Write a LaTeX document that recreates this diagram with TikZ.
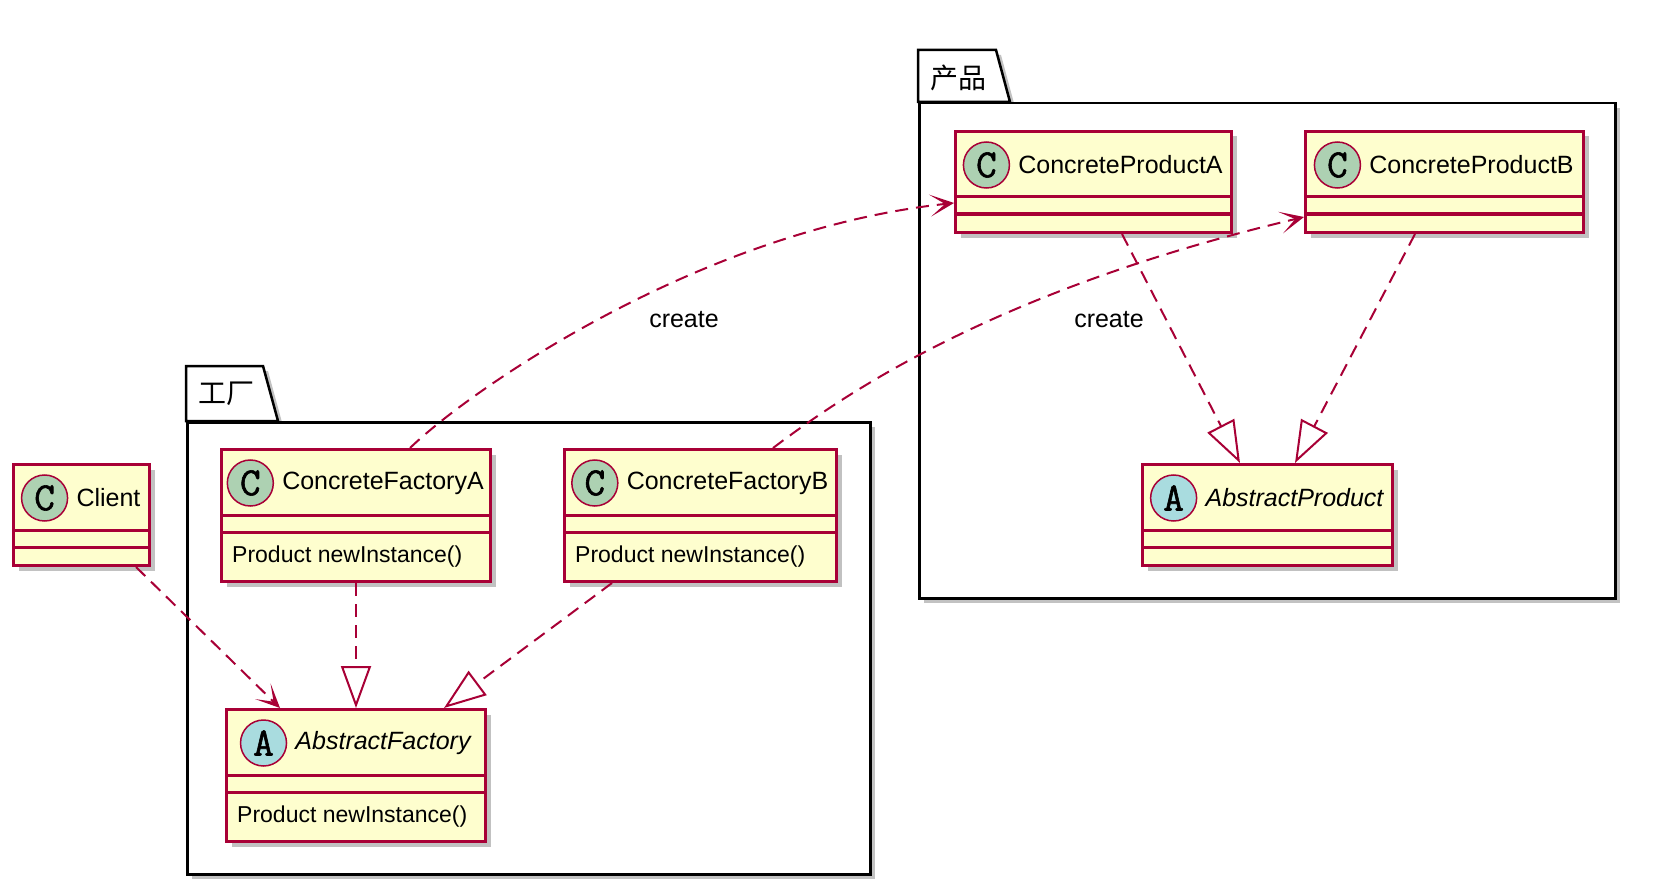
\documentclass[tikz,border=0pt]{standalone}
\usepackage{fontspec}
\setmainfont{Liberation Sans}
\newfontfamily\cjk{Noto Sans CJK SC}
\newfontfamily\iconfont[AutoFakeBold=1.5]{Latin Modern Mono}
\usepackage{tikz}
\usetikzlibrary{positioning,calc,arrows.meta,shadows}

\definecolor{umlRed}{HTML}{A80036}
\definecolor{umlFill}{HTML}{FEFECE}
\definecolor{umlC}{HTML}{ADD1B2}
\definecolor{umlA}{HTML}{A9DCDF}

\tikzset{
  classbox/.style={draw=umlRed, fill=umlFill, line width=3pt, anchor=north west, inner sep=0pt,
    drop shadow={shadow xshift=5pt, shadow yshift=-5pt, fill=black!40, opacity=.6}},
  classline/.style={draw=umlRed, line width=3pt},
  circC/.style={circle, draw=umlRed, line width=1.5pt, fill=umlC, minimum size=46pt, inner sep=0pt,
    font=\iconfont\bfseries\fontsize{40}{40}\selectfont},
  circA/.style={circC, fill=umlA},
  titleC/.style={inner sep=0pt},
  titleA/.style={inner sep=0pt, font=\fontsize{25}{30}\selectfont\itshape},
  method/.style={inner sep=0pt, font=\fontsize{23}{28}\selectfont},
  pkgbox/.style={draw=black, fill=white, line width=2.5pt, anchor=north west, inner sep=0pt,
    drop shadow={shadow xshift=5pt, shadow yshift=-5pt, fill=black!40, opacity=.6}},
  pkgtab/.style={draw=black, fill=white, line width=2.5pt, line join=miter,
    drop shadow={shadow xshift=5pt, shadow yshift=-5pt, fill=black!40, opacity=.6}},
  pkglabel/.style={inner sep=0pt, font=\cjk\fontsize{28}{32}\selectfont},
  dep/.style={draw=umlRed, line width=2pt, dash pattern=on 13pt off 8pt,
    -{Stealth[length=24pt, width=22pt, inset=15pt]}},
  real/.style={draw=umlRed, line width=2pt, dash pattern=on 13pt off 8pt,
    -{Triangle[open, length=42pt, width=30pt, fill=white]}},
  lbl/.style={inner sep=0pt}
}

\begin{document}
\begin{tikzpicture}[x=1pt, y=-1pt, font=\fontsize{25}{30}\selectfont]
  \useasboundingbox (0,0) rectangle (1659,896);

  % name, top left, width, kind, title, method
  \def\umlClass#1#2#3#4#5#6{
    \if\relax\detokenize{#6}\relax \def\boxH{101}\else \def\boxH{132}\fi
    \node[classbox, minimum width=#3pt, minimum height=\boxH pt] (#1) at (#2) {};
    \draw[classline] ([yshift=-67pt]#1.north west) -- ([yshift=-67pt]#1.north east);
    \draw[classline] ([yshift=-84pt]#1.north west) -- ([yshift=-84pt]#1.north east);
    \node[title#4] (#1-name) at ([xshift=27pt,yshift=-35pt]#1.north) {#5};
    \node[circ#4, left=8pt of #1-name] (#1-icon) {#4};
    \if\relax\detokenize{#6}\relax\else
      \node[method, anchor=west] (#1-op) at ([xshift=12pt,yshift=-109pt]#1.north west) {#6};
    \fi
  }

  % packages
  \draw[pkgtab] (186,421) -- ++(0,-55) -- ++(77,0) -- ++(15,55) -- cycle;
  \node[pkgbox, minimum width=683pt, minimum height=452pt] (factory) at (186,421) {};
  \node[pkglabel] (factory-lbl) at (226,394) {工厂};

  \draw[pkgtab] (918,102) -- ++(0,-52) -- ++(78,0) -- ++(14,52) -- cycle;
  \node[pkgbox, minimum width=696pt, minimum height=495pt] (product) at (918,102) {};
  \node[pkglabel] (product-lbl) at (958,78) {产品};

  % classes
  \umlClass{client}{12,463}{136}{C}{Client}{}
  \umlClass{cfa}{220,448}{269}{C}{ConcreteFactoryA}{Product newInstance()}
  \umlClass{cfb}{563,448}{272}{C}{ConcreteFactoryB}{Product newInstance()}
  \umlClass{af}{225,708}{259}{A}{AbstractFactory}{Product newInstance()}
  \umlClass{cpa}{954,130}{276}{C}{ConcreteProductA}{}
  \umlClass{cpb}{1304,130}{278}{C}{ConcreteProductB}{}
  \umlClass{ap}{1141,463}{250}{A}{AbstractProduct}{}

  % relations
  \draw[dep] ([xshift=-15pt]client.south east) -- ([xshift=55pt]af.north west);
  \draw[real] (cfa.south) -- (af.north);
  \draw[real] ([xshift=49pt]cfb.south west) -- ([xshift=-43pt]af.north east);
  \draw[real] ([xshift=168pt]cpa.south west) -- ([xshift=99pt]ap.north west);
  \draw[real] ([xshift=111pt]cpb.south west) -- ([xshift=-99pt]ap.north east);
  \draw[dep] ([xshift=190pt]cfa.north west) .. controls +(60,-58) and +(-254,27) .. ([yshift=-73pt]cpa.north west);
  \draw[dep] ([xshift=210pt]cfb.north west) .. controls +(77,-58) and +(-304,72) .. ([yshift=-87pt]cpb.north west);

  \node[lbl] (createA) at (684,320) {create};
  \node[lbl] (createB) at (1109,320) {create};
\end{tikzpicture}
\end{document}
